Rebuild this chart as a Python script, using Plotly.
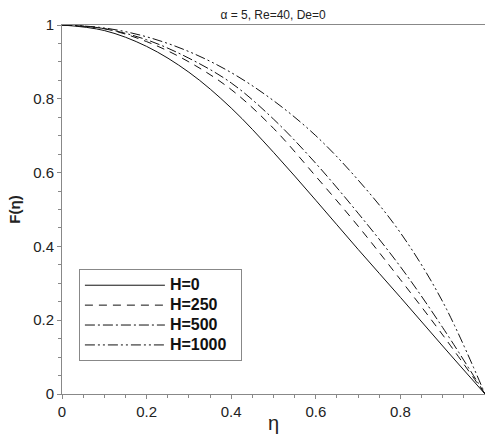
import plotly.graph_objects as go

eta = [0.0, 0.1, 0.2, 0.3, 0.4, 0.5, 0.6, 0.7, 0.8, 0.9, 1.0]
F_H0 = [1.0, 0.985, 0.942, 0.872, 0.775, 0.655, 0.525, 0.392, 0.262, 0.13, 0.0]
F_H250 = [1.0, 0.99, 0.955, 0.9, 0.825, 0.72, 0.59, 0.455, 0.31, 0.16, 0.0]
F_H500 = [1.0, 0.99, 0.96, 0.91, 0.843, 0.745, 0.625, 0.49, 0.345, 0.18, 0.0]
F_H1000 = [1.0, 0.992, 0.968, 0.928, 0.871, 0.795, 0.70, 0.58, 0.437, 0.25, 0.0]

names = ["H=0", "H=250", "H=500", "H=1000"]
series = [F_H0, F_H250, F_H500, F_H1000]
dashes = ["solid", "8px,6px", "10px,3px,2px,3px", "10px,3px,2px,3px,2px,3px"]

fig = go.Figure()
for n, s, d in zip(names, series, dashes):
    fig.add_trace(go.Scatter(x=eta, y=s, mode="lines",
                             name='<span style="font-size:16px">' + n + '&nbsp;&nbsp;</span>',
                             line=dict(color="#111", width=1, dash=d, shape="spline")))

axis_common = dict(
    showgrid=False, zeroline=False, showline=True, linecolor="#888", linewidth=1,
    mirror=True, ticks="outside", ticklen=4, tickcolor="#888", tickwidth=1,
    automargin=False,
    tickfont=dict(family="Liberation Sans", size=15, color="#222"),
    minor=dict(ticks="outside", ticklen=3, tickcolor="#888", dtick=0.05),
)

fig.update_xaxes(range=[0, 1], dtick=0.2, tick0=0, **axis_common)
fig.update_yaxes(range=[0, 1], dtick=0.2, tick0=0, **axis_common,
                 title=dict(text="<b>F(η)</b>", font=dict(family="Liberation Sans", size=15, color="#222"), standoff=8))

fig.add_annotation(text="η", x=0.5, y=-0.078, xref="paper", yref="paper",
                   xanchor="center", yanchor="middle", showarrow=False,
                   font=dict(family="Liberation Sans", size=20, color="#222"))

fig.update_layout(
    width=485, height=434,
    margin=dict(l=62, r=0, t=25, b=40, autoexpand=False),
    paper_bgcolor="white", plot_bgcolor="white",
    title=dict(text="α = 5, Re=40, De=0", x=0.563, xanchor="center", y=0.965, yanchor="middle",
               automargin=False,
               font=dict(family="Liberation Sans", size=12, color="#222")),
    legend=dict(x=0.04, y=0.338, xanchor="left", yanchor="top",
                bordercolor="#888", borderwidth=1, bgcolor="white",
                itemwidth=80,
                font=dict(family="Liberation Sans", size=13, color="#111", weight="bold")),
    showlegend=True,
)

fig.write_html("out.html", config={"displayModeBar": False},
               post_script="document.body.style.margin='0';")
